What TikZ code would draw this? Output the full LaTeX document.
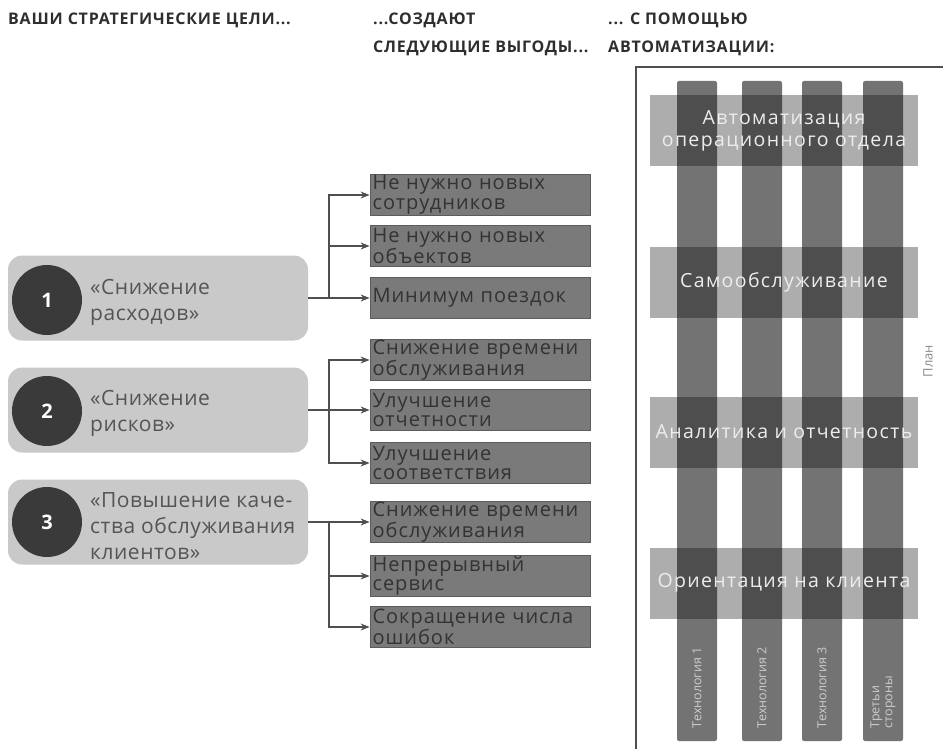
\documentclass[tikz,border=0pt]{standalone}
\usepackage{fontspec}
\setmainfont{Open Sans}
\usetikzlibrary{arrows.meta, positioning, calc}
\definecolor{headtext}{HTML}{2E2E2E}
\definecolor{goalbg}{HTML}{C9C9C9}
\definecolor{goaldot}{HTML}{3A3A3A}
\definecolor{goaltext}{HTML}{555555}
\definecolor{benefitbg}{HTML}{7A7A7A}
\definecolor{benefitline}{HTML}{5C5C5C}
\definecolor{benefittext}{HTML}{333333}
\definecolor{linkgray}{HTML}{4F4F4F}
\definecolor{plantext}{HTML}{8A8A8A}

\begin{document}
\begin{tikzpicture}[x=1pt, y=-1pt,
    every node/.style={inner sep=0pt},
    head/.style={anchor=base west, align=left, text=headtext,
                 font=\fontsize{16}{28}\selectfont\bfseries\addfontfeatures{LetterSpace=5}},
    goal/.style={fill=goalbg, rounded corners=14pt, minimum width=300pt,
                 minimum height=85pt},
    dot/.style={circle, fill=goaldot, minimum size=70pt, text=white,
                font=\fontsize{20}{20}\selectfont\bfseries},
    goaltxt/.style={anchor=west, align=left, text=goaltext,
                    font=\fontsize{21}{26}\selectfont\addfontfeatures{LetterSpace=2.5}},
    benefit/.style={draw=benefitline, line width=0.8pt, fill=benefitbg,
                    minimum width=220pt, minimum height=41pt, text width=215pt,
                    align=left, text=benefittext,
                    font=\fontsize{20}{19.5}\selectfont\addfontfeatures{LetterSpace=5}},
    link/.style={draw=linkgray, line width=1.1pt},
    arr/.style={link, -{Stealth[length=9pt, width=7pt]}},
    techcol/.style={fill=black, fill opacity=0.55, rounded corners=2pt,
                    minimum width=40pt, minimum height=660pt},
    band/.style={fill=black, fill opacity=0.32, text opacity=1, text=white!93!black,
                 minimum width=268pt, minimum height=71pt, align=center,
                 font=\fontsize{19.5}{22}\selectfont\addfontfeatures{LetterSpace=7}},
    collbl/.style={rotate=90, anchor=west, align=left, text=white!80!black,
                   font=\fontsize{12.5}{13}\selectfont},
    frame/.style={draw=linkgray, line width=1.2pt}
]
    \useasboundingbox (0,0) rectangle (943,749);

    % headers
    \node[head] (h1) at (8,25)   {ВАШИ СТРАТЕГИЧЕСКИЕ ЦЕЛИ...};
    \node[head] (h2) at (373,53) {...СОЗДАЮТ\\СЛЕДУЮЩИЕ ВЫГОДЫ...};
    \node[head] (h3) at (608,53) {... С ПОМОЩЬЮ\\АВТОМАТИЗАЦИИ:};

    % goals
    \node[goal] (g1) at (158,298) {};
    \node[goal] (g2) at (158,410) {};
    \node[goal] (g3) at (158,522) {};
    \node[dot] (d1) at (47,300) {1};
    \node[dot] (d2) at (47,411) {2};
    \node[dot] (d3) at (47,522) {3};
    \node[goaltxt] (t1) at (90,302) {«Снижение\\расходов»};
    \node[goaltxt] (t2) at (90,413) {«Снижение\\рисков»};
    \node[goaltxt] (t3) at (90,526) {«Повышение каче-\\ства обслуживания\\клиентов»};

    % benefits
    \node[benefit] (b1) at (480,195) {Не нужно новых\\сотрудников};
    \node[benefit] (b2) at (480,246) {Не нужно новых\\объектов};
    \node[benefit] (b3) at (480,298) {Минимум поездок};
    \node[benefit] (b4) at (480,360) {Снижение времени\\обслуживания};
    \node[benefit] (b5) at (480,410) {Улучшение\\отчетности};
    \node[benefit] (b6) at (480,463) {Улучшение\\соответствия};
    \node[benefit] (b7) at (480,522) {Снижение времени\\обслуживания};
    \node[benefit] (b8) at (480,576) {Непрерывный\\сервис};
    \node[benefit] (b9) at (480,627) {Сокращение числа\\ошибок};

    % links
    \coordinate (j1) at (329,298);
    \coordinate (j2) at (329,410);
    \coordinate (j3) at (329,522);
    \draw[link] (g1.east) -- (j1);
    \draw[arr] (j1) |- (b1.west);
    \draw[arr] (j1) |- (b2.west);
    \draw[arr] (j1) -- (b3.west);
    \draw[link] (g2.east) -- (j2);
    \draw[arr] (j2) |- (b4.west);
    \draw[arr] (j2) -- (b5.west);
    \draw[arr] (j2) |- (b6.west);
    \draw[link] (g3.east) -- (j3);
    \draw[arr] (j3) -- (b7.west);
    \draw[arr] (j3) |- (b8.west);
    \draw[arr] (j3) |- (b9.west);

    % automation panel
    \draw[frame] (636,749) -- (636,67) -- (943,67);
    \node[techcol] (c1) at (697,411) {};
    \node[techcol] (c2) at (762,411) {};
    \node[techcol] (c3) at (822,411) {};
    \node[techcol] (c4) at (883,411) {};
    \node[band] (a1) at (784,131) {Автоматизация\\операционного отдела};
    \node[band] (a2) at (784,282) {Самообслуживание};
    \node[band] (a3) at (784,432) {Аналитика и отчетность};
    \node[band] (a4) at (784,583) {Ориентация на клиента};
    \node[collbl] (l1) at ([yshift=13pt]c1.south) {Технология 1};
    \node[collbl] (l2) at ([yshift=13pt]c2.south) {Технология 2};
    \node[collbl] (l3) at ([yshift=13pt]c3.south) {Технология 3};
    \node[collbl] (l4) at ([yshift=13pt]c4.south) {Третьи\\стороны};
    \node[rotate=90, text=plantext, font=\fontsize{13}{13}\selectfont] (plan) at (928,361) {План};
\end{tikzpicture}
\end{document}
